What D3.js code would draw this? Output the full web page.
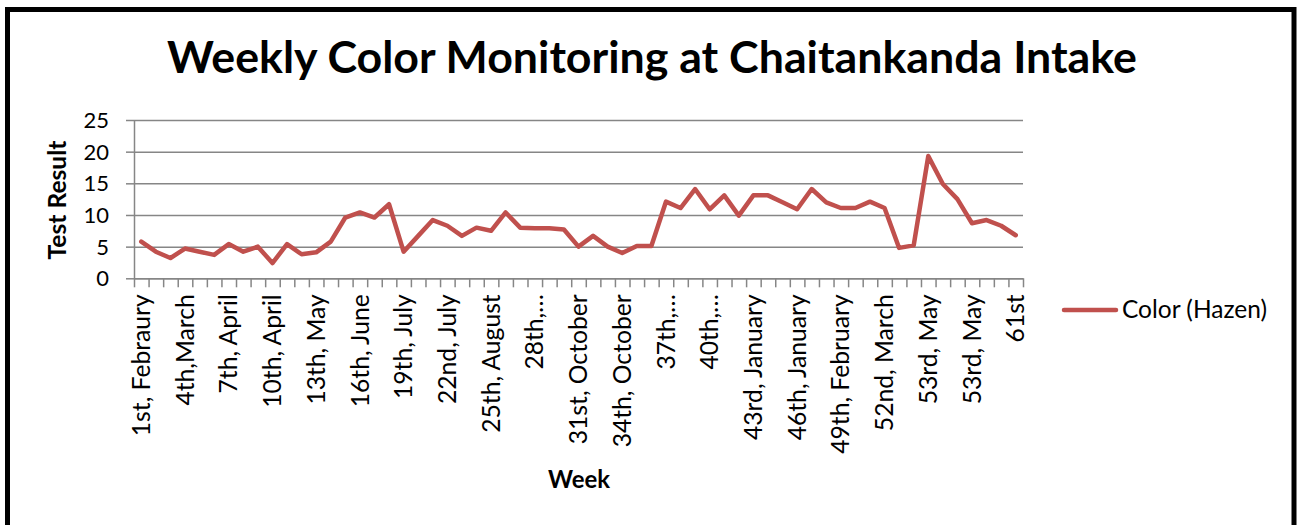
<!DOCTYPE html>
<html><head><meta charset="utf-8">
<script src="https://cdn.jsdelivr.net/npm/d3@7"></script>
<style>body{margin:0;background:#fff}svg{display:block}text{font-family:Lato,"Open Sans",sans-serif}</style>
</head><body><svg id="c" width="1299" height="525"></svg>
<script>
const title = "Weekly Color Monitoring at Chaitankanda Intake";
const yTitle = "Test Result";
const xTitle = "Week";
const seriesName = "Color (Hazen)";
const weeks = [
 "1st, Febraury","2nd, February","3rd, February","4th,March","5th, March","6th, March",
 "7th, April","8th, April","9th, April","10th, April","11th, April","12th, May",
 "13th, May","14th, May","15th, June","16th, June","17th, June","18th, July",
 "19th, July","20th, July","21st, July","22nd, July","23rd, August","24th, August",
 "25th, August","26th, September","27th, September","28th,…","29th, September","30th, October",
 "31st, October","32nd, October","33rd, October","34th, October","35th, November","36th, November",
 "37th,…","38th, December","39th, December","40th,…","41st, December","42nd, January",
 "43rd, January","44th, January","45th, January","46th, January","47th, February","48th, February",
 "49th, February","50th, March","51st, March","52nd, March","53rd, April","53rd, April",
 "53rd, May","53rd, May","53rd, May","53rd, May","53rd, June","53rd, June","61st"
];
const colorValues = [
 5.8,4.2,3.2,4.7,4.2,3.7,5.4,4.2,5.0,2.4,
 5.4,3.8,4.1,5.8,9.6,10.4,9.6,11.7,4.2,6.7,
 9.2,8.3,6.7,8.0,7.5,10.4,8.0,7.9,7.9,7.7,
 5.0,6.7,5.0,4.0,5.1,5.1,12.1,11.1,14.1,10.9,
 13.1,9.9,13.1,13.1,12.0,10.9,14.1,12.0,11.1,11.1,
 12.1,11.1,4.8,5.2,19.3,14.9,12.5,8.7,9.2,8.3,6.8
];
const yTicks = [0,5,10,15,20,25];
const labelEvery = 3;

const svg = d3.select("#c");
const lineColor = "#C0504D", gridColor = "#868686";
const X0 = 134, X1 = 1023, Y0 = 278.3, Y1 = 120;

function fit(sel, w){
  const cur = sel.node().getComputedTextLength();
  const fs = parseFloat(sel.attr("font-size"));
  sel.attr("font-size", fs * w / cur);
}

// outer border
svg.append("rect").attr("x",7.5).attr("y",9.5).attr("width",1286.5).attr("height",540)
  .attr("fill","none").attr("stroke","#000").attr("stroke-width",5);

const x = d3.scaleBand().domain(d3.range(weeks.length)).range([X0,X1]);
const xi = d3.scaleLinear().domain([0,weeks.length]).range([X0,X1]);
const y = d3.scaleLinear().domain([0,25]).range([Y0,Y1]);

// gridlines
const grid = svg.append("g").attr("transform",`translate(${X0},0)`)
  .call(d3.axisLeft(y).tickValues(yTicks).tickSize(-(X1-X0)).tickFormat(""));
grid.select(".domain").remove();
grid.selectAll("line").attr("stroke",gridColor).attr("stroke-width",1.5);

// y axis
const ya = svg.append("g").attr("transform",`translate(${X0},0)`)
  .call(d3.axisLeft(y).tickValues(yTicks).tickSizeInner(8).tickSizeOuter(0).tickPadding(17));
ya.select(".domain").attr("stroke",gridColor).attr("stroke-width",1.5);
ya.selectAll("line").attr("stroke",gridColor).attr("stroke-width",1.5);
ya.selectAll("text").attr("font-size",24).attr("fill","#000").attr("dy","0.34em")
  .style("font-family","Lato,'Open Sans',sans-serif");
fit(ya.selectAll("text").filter(d=>d===10), 25.5);
const ytfs = ya.selectAll("text").filter(d=>d===10).attr("font-size");
ya.selectAll("text").attr("font-size",ytfs);

// x axis ticks
const xt = svg.append("g").attr("transform",`translate(0,${Y0})`)
  .call(d3.axisBottom(xi).tickValues(d3.range(weeks.length+1)).tickSizeInner(9).tickSizeOuter(0).tickFormat(""));
xt.select(".domain").attr("stroke",gridColor).attr("stroke-width",1.5);
xt.selectAll("line").attr("stroke",gridColor).attr("stroke-width",1.5);

// x labels
const xl = svg.append("g").attr("transform",`translate(0,${Y0})`)
  .call(d3.axisBottom(x).tickValues(d3.range(0,weeks.length,labelEvery)).tickSize(0).tickFormat(i=>weeks[i]));
xl.select(".domain").remove();
xl.selectAll("text").attr("font-size",24).attr("fill","#000")
  .style("font-family","Lato,'Open Sans',sans-serif")
  .attr("text-anchor","end").attr("transform","rotate(-90)")
  .attr("x",-16).attr("y",0).attr("dy","0.35em");
const first = xl.selectAll("text").filter(d=>d===0);
fit(first, 142);
xl.selectAll("text").attr("font-size", first.attr("font-size"));

// line
const line = d3.line().x((d,i)=>x(i)+x.bandwidth()/2).y(d=>y(d));
svg.append("path").datum(colorValues).attr("d",line).attr("fill","none")
  .attr("stroke",lineColor).attr("stroke-width",4.5).attr("stroke-linejoin","round").attr("stroke-linecap","round");

// title
const t = svg.append("text").attr("x",652).attr("y",73).attr("text-anchor","middle")
  .attr("font-size",42).attr("font-weight","bold").attr("fill","#000").text(title);
fit(t, 970);

// y title
const yt = svg.append("text").attr("transform","translate(66,200) rotate(-90)").attr("text-anchor","middle")
  .attr("font-size",22).attr("font-weight","bold").attr("fill","#000").text(yTitle);
fit(yt, 119);

// x title
const xtt = svg.append("text").attr("x",579).attr("y",488).attr("text-anchor","middle")
  .attr("font-size",22).attr("font-weight","bold").attr("fill","#000").text(xTitle);
fit(xtt, 62);

// legend
svg.append("line").attr("x1",1064).attr("x2",1116).attr("y1",310).attr("y2",310)
  .attr("stroke",lineColor).attr("stroke-width",4.5).attr("stroke-linecap","round");
const lt = svg.append("text").attr("x",1122).attr("y",318).attr("font-size",22).attr("fill","#000").text(seriesName);
fit(lt, 145);
</script></body></html>
